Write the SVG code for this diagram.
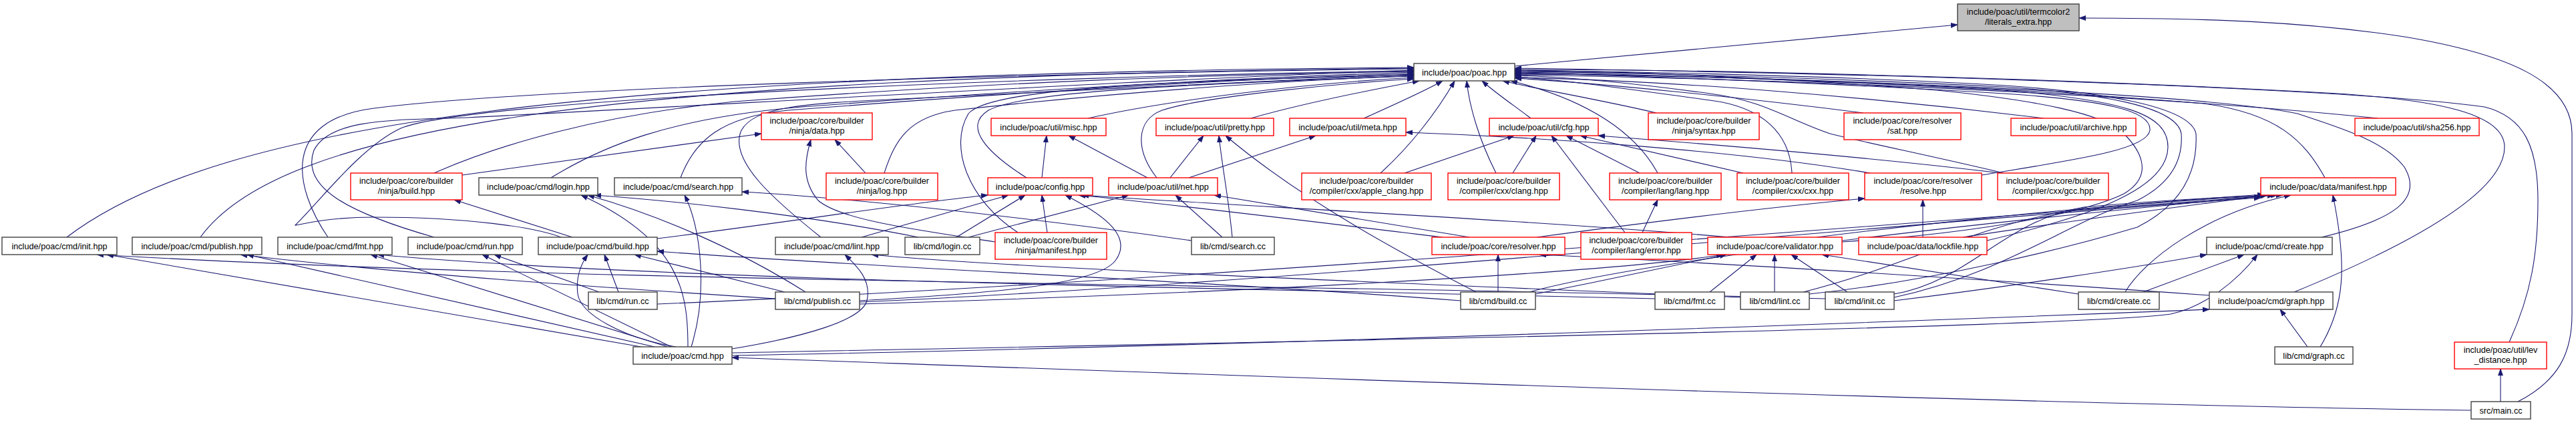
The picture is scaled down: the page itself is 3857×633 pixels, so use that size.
<svg xmlns="http://www.w3.org/2000/svg" width="3857" height="633" viewBox="0 0 3857 633">
<style>
.node rect{fill:#fff;stroke:#404040;stroke-width:1.4}
.node rect.r{stroke:#ff0000}
.node rect.g{fill:#bfbfbf}
.node text{font-family:"Liberation Sans",Arial,sans-serif;font-size:12.7px;fill:#000;text-anchor:middle}
.edges path{fill:none;stroke:#191970;stroke-width:1.1;marker-end:url(#a)}
</style>
<defs>
<marker id="a" markerWidth="11" markerHeight="8" refX="10" refY="4" orient="auto" markerUnits="userSpaceOnUse"><path d="M0,0.5 L10,4 L0,7.5 z" fill="#191970" stroke="#191970" stroke-width="0.8"/></marker>
</defs>
<rect width="3857" height="633" fill="#fff"/>
<g class="edges">
<path d="M2268,99 L2931,37"/>
<path d="M3770,601 C3830,570 3851,530 3851,470 L3851,200 C3851,120 3750,80 3600,55 C3450,32 3300,27 3113,27"/>
<path d="M100,355 C330,180 900,110 2117,101"/>
<path d="M300,355 C420,190 900,115 2117,102"/>
<path d="M491,355 C440,280 420,180 560,162 C800,132 1500,110 2117,103"/>
<path d="M650,355 C520,318 450,280 470,225 C495,175 600,180 700,176 C1200,150 1800,115 2117,105"/>
<path d="M840,355 C800,340 700,325 560,325 C480,325 445,338 442,337 C480,300 540,220 600,192 C700,150 1500,115 2117,106"/>
<path d="M650,259 C750,215 900,172 1100,152 C1500,122 1800,112 2117,107"/>
<path d="M825,266 C900,220 1000,177 1200,160 C1600,130 1900,115 2117,108"/>
<path d="M1019,266 C1040,210 1080,175 1180,165 C1500,140 1850,118 2117,110"/>
<path d="M1229,355 C1160,300 1090,240 1110,195 C1130,160 1200,155 1350,148 C1700,130 1950,120 2117,111"/>
<path d="M1324,259 C1340,210 1360,175 1430,165 C1700,135 1950,120 2117,113"/>
<path d="M1537,266 C1480,230 1440,190 1480,165 C1530,140 1700,128 2117,114"/>
<path d="M1524,348 C1450,300 1420,220 1450,170 C1480,135 1700,122 2117,112"/>
<path d="M1629,177 C1750,150 1950,125 2117,116"/>
<path d="M1732,266 C1700,225 1700,180 1740,165 C1800,145 2000,125 2117,118"/>
<path d="M1873,177 C1950,155 2050,135 2125,121"/>
<path d="M2042,177 C2080,160 2130,138 2160,121"/>
<path d="M2067,259 C2110,220 2150,170 2178,121"/>
<path d="M2240,259 C2215,210 2200,160 2196,121"/>
<path d="M2292,177 C2270,160 2240,140 2219,121"/>
<path d="M2480,169 C2400,150 2300,133 2250,121"/>
<path d="M2482,259 C2450,200 2380,150 2262,121"/>
<path d="M2790,169 C2600,145 2400,125 2268,117"/>
<path d="M3060,177 C2800,145 2500,120 2268,116"/>
<path d="M2683,259 C2680,200 2640,160 2560,150 C2450,135 2350,120 2268,115"/>
<path d="M3000,259 C2900,235 2800,215 2740,200 C2680,180 2640,150 2560,140 C2450,125 2350,115 2268,113"/>
<path d="M3560,177 C3300,150 2800,120 2268,112"/>
<path d="M3481,266 C3450,210 3410,170 3300,155 C3000,130 2600,112 2268,111"/>
<path d="M3476,355 C3580,330 3630,300 3600,250 C3570,210 3500,190 3440,170 C3300,140 2700,115 2268,110"/>
<path d="M3435,437 C3550,390 3750,300 3750,220 C3750,170 3650,150 3500,140 C3100,118 2600,104 2268,104"/>
<path d="M3757,512 C3790,440 3800,380 3800,300 C3800,220 3780,175 3720,160 C3500,130 2800,110 2268,102"/>
<path d="M2967,262 C3100,240 3215,225 3219,195 C3222,165 3150,150 3000,140 C2700,122 2400,112 2268,109"/>
<path d="M2975,360 C3100,330 3246,290 3246,220 C3246,170 3180,150 3000,135 C2700,118 2400,110 2268,108"/>
<path d="M2836,445 C3000,410 3100,330 3200,300 C3260,270 3268,230 3266,200 C3260,160 3150,140 3000,130 C2700,115 2400,108 2268,107"/>
<path d="M2709,440 C2900,420 3100,370 3200,340 C3280,300 3290,240 3288,200 C3280,160 3150,135 2950,125 C2700,112 2400,106 2268,106"/>
<path d="M2758,362 C2950,350 3120,320 3180,290 C3230,260 3200,220 3180,200 C3150,170 3050,150 2900,135 C2650,115 2400,106 2268,105"/>
<path d="M692,262 L1140,200"/>
<path d="M1296,259 L1250,209"/>
<path d="M1490,362 C1380,345 1260,330 1225,300 C1200,270 1205,240 1214,209"/>
<path d="M857,355 L680,299"/>
<path d="M984,357 C1200,330 1350,305 1479,292"/>
<path d="M960,519 L160,381"/>
<path d="M2733,447 C2000,425 900,425 145,381"/>
<path d="M980,519 L370,381"/>
<path d="M1161,447 C900,430 600,410 360,381"/>
<path d="M1000,519 L555,381"/>
<path d="M2478,447 C1800,430 1000,420 565,381"/>
<path d="M1005,519 L722,381"/>
<path d="M897,437 L740,381"/>
<path d="M1012,519 C930,505 870,470 865,440 C862,415 870,395 880,381"/>
<path d="M926,437 L905,381"/>
<path d="M1175,437 L950,381"/>
<path d="M2187,450 C1800,420 1300,400 984,376"/>
<path d="M1030,519 C1030,440 1020,360 870,292"/>
<path d="M1206,437 C1100,370 980,320 880,292"/>
<path d="M1375,355 C1200,320 1000,300 890,292"/>
<path d="M1035,519 C1060,440 1050,340 1025,292"/>
<path d="M1784,360 C1500,320 1250,295 1111,287"/>
<path d="M1096,522 C1200,505 1290,480 1298,450 C1305,420 1285,400 1265,381"/>
<path d="M2606,445 C2000,420 1500,400 1305,381"/>
<path d="M3700,614 C3000,605 1800,560 1096,535"/>
<path d="M1096,528 C2000,510 3100,490 3250,470 C3300,460 3350,420 3380,381"/>
<path d="M1096,532 C2000,515 3000,475 3308,463"/>
<path d="M1560,266 L1567,203"/>
<path d="M1718,266 L1600,203"/>
<path d="M1752,266 L1802,203"/>
<path d="M1845,355 C1840,300 1830,250 1825,203"/>
<path d="M2210,437 C2100,380 1950,300 1835,203"/>
<path d="M1780,266 L1970,203"/>
<path d="M2800,259 C2600,225 2300,205 2105,198"/>
<path d="M1450,355 L1690,292"/>
<path d="M1830,355 L1760,292"/>
<path d="M2200,355 C2050,330 1900,305 1818,292"/>
<path d="M2160,355 C1950,330 1750,305 1615,292"/>
<path d="M1290,355 L1510,292"/>
<path d="M1432,355 L1535,292"/>
<path d="M1568,348 L1560,292"/>
<path d="M1287,450 C1450,440 1640,430 1670,390 C1700,350 1640,315 1595,292"/>
<path d="M2590,355 C2300,330 1800,305 1620,292"/>
<path d="M2103,259 L2267,203"/>
<path d="M2265,259 L2300,203"/>
<path d="M2433,348 L2323,203"/>
<path d="M2455,259 L2345,203"/>
<path d="M2610,259 L2366,203"/>
<path d="M2995,259 C2800,235 2550,215 2393,203"/>
<path d="M2459,348 L2482,299"/>
<path d="M2879,355 L2879,299"/>
<path d="M2301,355 C2450,335 2650,310 2792,297"/>
<path d="M2243,437 L2243,381"/>
<path d="M3308,442 C3000,420 2600,395 2305,381"/>
<path d="M2299,440 C2400,420 2520,395 2585,381"/>
<path d="M1287,455 C1800,440 2400,410 2580,381"/>
<path d="M2560,437 L2630,381"/>
<path d="M2657,437 L2657,381"/>
<path d="M2766,437 L2682,381"/>
<path d="M3112,440 L2728,381"/>
<path d="M2720,355 C3000,320 3250,300 3390,291"/>
<path d="M2939,355 C3100,330 3300,305 3395,292"/>
<path d="M3182,437 C3210,390 3300,320 3430,292"/>
<path d="M3474,519 C3510,460 3515,400 3493,292"/>
<path d="M2290,437 C2500,380 3100,320 3405,292"/>
<path d="M2836,440 C2950,420 3000,330 3120,310 C3250,298 3350,294 3418,292"/>
<path d="M2700,437 C2850,400 2950,340 3100,315 C3250,300 3350,295 3410,292"/>
<path d="M1287,452 C2000,420 3000,320 3385,296"/>
<path d="M984,455 C1800,420 2900,330 3385,294"/>
<path d="M3209,437 L3360,381"/>
<path d="M2836,450 C3000,430 3200,400 3304,381"/>
<path d="M3455,519 L3414,463"/>
<path d="M3744,601 L3744,552"/>
</g>
<g id="n_termcolor" class="node"><rect class="g" x="2931" y="6" width="182" height="40"/><text x="3022" y="21.7">include/poac/util/termcolor2</text><text x="3022" y="36.7">/literals_extra.hpp</text></g>
<g id="n_poac" class="node"><rect x="2117" y="95" width="151" height="26"/><text x="2192.5" y="112.5">include/poac/poac.hpp</text></g>
<g id="n_data" class="node"><rect class="r" x="1140" y="169" width="166" height="40"/><text x="1223" y="184.7">include/poac/core/builder</text><text x="1223" y="199.7">/ninja/data.hpp</text></g>
<g id="n_misc" class="node"><rect class="r" x="1484" y="177" width="172" height="26"/><text x="1570" y="194.5">include/poac/util/misc.hpp</text></g>
<g id="n_pretty" class="node"><rect class="r" x="1731" y="177" width="176" height="26"/><text x="1819" y="194.5">include/poac/util/pretty.hpp</text></g>
<g id="n_meta" class="node"><rect class="r" x="1931" y="177" width="174" height="26"/><text x="2018" y="194.5">include/poac/util/meta.hpp</text></g>
<g id="n_cfg" class="node"><rect class="r" x="2230" y="177" width="163" height="26"/><text x="2311.5" y="194.5">include/poac/util/cfg.hpp</text></g>
<g id="n_syntax" class="node"><rect class="r" x="2468" y="169" width="166" height="40"/><text x="2551" y="184.7">include/poac/core/builder</text><text x="2551" y="199.7">/ninja/syntax.hpp</text></g>
<g id="n_sat" class="node"><rect class="r" x="2761" y="169" width="175" height="40"/><text x="2848.5" y="184.7">include/poac/core/resolver</text><text x="2848.5" y="199.7">/sat.hpp</text></g>
<g id="n_archive" class="node"><rect class="r" x="3011" y="177" width="187" height="26"/><text x="3104.5" y="194.5">include/poac/util/archive.hpp</text></g>
<g id="n_sha256" class="node"><rect class="r" x="3526" y="177" width="186" height="26"/><text x="3619" y="194.5">include/poac/util/sha256.hpp</text></g>
<g id="n_ninjabuild" class="node"><rect class="r" x="525" y="259" width="167" height="40"/><text x="608.5" y="274.7">include/poac/core/builder</text><text x="608.5" y="289.7">/ninja/build.hpp</text></g>
<g id="n_login" class="node"><rect x="717" y="266" width="178" height="26"/><text x="806" y="283.5">include/poac/cmd/login.hpp</text></g>
<g id="n_search" class="node"><rect x="920" y="266" width="191" height="26"/><text x="1015.5" y="283.5">include/poac/cmd/search.hpp</text></g>
<g id="n_log" class="node"><rect class="r" x="1237" y="259" width="167" height="40"/><text x="1320.5" y="274.7">include/poac/core/builder</text><text x="1320.5" y="289.7">/ninja/log.hpp</text></g>
<g id="n_config" class="node"><rect class="r" x="1479" y="266" width="157" height="26"/><text x="1557.5" y="283.5">include/poac/config.hpp</text></g>
<g id="n_net" class="node"><rect class="r" x="1660" y="266" width="163" height="26"/><text x="1741.5" y="283.5">include/poac/util/net.hpp</text></g>
<g id="n_appleclang" class="node"><rect class="r" x="1949" y="259" width="194" height="40"/><text x="2046" y="274.7">include/poac/core/builder</text><text x="2046" y="289.7">/compiler/cxx/apple_clang.hpp</text></g>
<g id="n_clang" class="node"><rect class="r" x="2168" y="259" width="167" height="40"/><text x="2251.5" y="274.7">include/poac/core/builder</text><text x="2251.5" y="289.7">/compiler/cxx/clang.hpp</text></g>
<g id="n_lang" class="node"><rect class="r" x="2410" y="259" width="167" height="40"/><text x="2493.5" y="274.7">include/poac/core/builder</text><text x="2493.5" y="289.7">/compiler/lang/lang.hpp</text></g>
<g id="n_cxx" class="node"><rect class="r" x="2601" y="259" width="167" height="40"/><text x="2684.5" y="274.7">include/poac/core/builder</text><text x="2684.5" y="289.7">/compiler/cxx/cxx.hpp</text></g>
<g id="n_resolve" class="node"><rect class="r" x="2792" y="259" width="175" height="40"/><text x="2879.5" y="274.7">include/poac/core/resolver</text><text x="2879.5" y="289.7">/resolve.hpp</text></g>
<g id="n_gcc" class="node"><rect class="r" x="2991" y="259" width="166" height="40"/><text x="3074" y="274.7">include/poac/core/builder</text><text x="3074" y="289.7">/compiler/cxx/gcc.hpp</text></g>
<g id="n_manifest" class="node"><rect class="r" x="3385" y="266" width="202" height="26"/><text x="3486" y="283.5">include/poac/data/manifest.hpp</text></g>
<g id="n_init" class="node"><rect x="3" y="355" width="172" height="26"/><text x="89" y="372.5">include/poac/cmd/init.hpp</text></g>
<g id="n_publish" class="node"><rect x="198" y="355" width="194" height="26"/><text x="295" y="372.5">include/poac/cmd/publish.hpp</text></g>
<g id="n_fmthpp" class="node"><rect x="416" y="355" width="171" height="26"/><text x="501.5" y="372.5">include/poac/cmd/fmt.hpp</text></g>
<g id="n_runhpp" class="node"><rect x="611" y="355" width="171" height="26"/><text x="696.5" y="372.5">include/poac/cmd/run.hpp</text></g>
<g id="n_buildhpp" class="node"><rect x="806" y="355" width="178" height="26"/><text x="895" y="372.5">include/poac/cmd/build.hpp</text></g>
<g id="n_linthpp" class="node"><rect x="1161" y="355" width="169" height="26"/><text x="1245.5" y="372.5">include/poac/cmd/lint.hpp</text></g>
<g id="n_logincc" class="node"><rect x="1355" y="355" width="112" height="26"/><text x="1411" y="372.5">lib/cmd/login.cc</text></g>
<g id="n_ninjamanifest" class="node"><rect class="r" x="1490" y="348" width="167" height="40"/><text x="1573.5" y="363.7">include/poac/core/builder</text><text x="1573.5" y="378.7">/ninja/manifest.hpp</text></g>
<g id="n_searchcc" class="node"><rect x="1784" y="355" width="124" height="26"/><text x="1846" y="372.5">lib/cmd/search.cc</text></g>
<g id="n_resolver" class="node"><rect class="r" x="2144" y="355" width="199" height="26"/><text x="2243.5" y="372.5">include/poac/core/resolver.hpp</text></g>
<g id="n_error" class="node"><rect class="r" x="2367" y="348" width="166" height="40"/><text x="2450" y="363.7">include/poac/core/builder</text><text x="2450" y="378.7">/compiler/lang/error.hpp</text></g>
<g id="n_validator" class="node"><rect class="r" x="2557" y="355" width="201" height="26"/><text x="2657.5" y="372.5">include/poac/core/validator.hpp</text></g>
<g id="n_lockfile" class="node"><rect class="r" x="2783" y="355" width="192" height="26"/><text x="2879" y="372.5">include/poac/data/lockfile.hpp</text></g>
<g id="n_createhpp" class="node"><rect x="3304" y="355" width="188" height="26"/><text x="3398" y="372.5">include/poac/cmd/create.hpp</text></g>
<g id="n_runcc" class="node"><rect x="881" y="437" width="103" height="26"/><text x="932.5" y="454.5">lib/cmd/run.cc</text></g>
<g id="n_publishcc" class="node"><rect x="1161" y="437" width="126" height="26"/><text x="1224" y="454.5">lib/cmd/publish.cc</text></g>
<g id="n_buildcc" class="node"><rect x="2187" y="437" width="112" height="26"/><text x="2243" y="454.5">lib/cmd/build.cc</text></g>
<g id="n_fmtcc" class="node"><rect x="2478" y="437" width="104" height="26"/><text x="2530" y="454.5">lib/cmd/fmt.cc</text></g>
<g id="n_lintcc" class="node"><rect x="2606" y="437" width="103" height="26"/><text x="2657.5" y="454.5">lib/cmd/lint.cc</text></g>
<g id="n_initcc" class="node"><rect x="2733" y="437" width="103" height="26"/><text x="2784.5" y="454.5">lib/cmd/init.cc</text></g>
<g id="n_createcc" class="node"><rect x="3112" y="437" width="121" height="26"/><text x="3172.5" y="454.5">lib/cmd/create.cc</text></g>
<g id="n_graphhpp" class="node"><rect x="3308" y="437" width="185" height="26"/><text x="3400.5" y="454.5">include/poac/cmd/graph.hpp</text></g>
<g id="n_cmd" class="node"><rect x="948" y="519" width="148" height="26"/><text x="1022" y="536.5">include/poac/cmd.hpp</text></g>
<g id="n_graphcc" class="node"><rect x="3406" y="519" width="117" height="26"/><text x="3464.5" y="536.5">lib/cmd/graph.cc</text></g>
<g id="n_lev" class="node"><rect class="r" x="3675" y="512" width="138" height="40"/><text x="3744" y="527.7">include/poac/util/lev</text><text x="3744" y="542.7">_distance.hpp</text></g>
<g id="n_main" class="node"><rect x="3700" y="601" width="89" height="26"/><text x="3744.5" y="618.5">src/main.cc</text></g>
</svg>
